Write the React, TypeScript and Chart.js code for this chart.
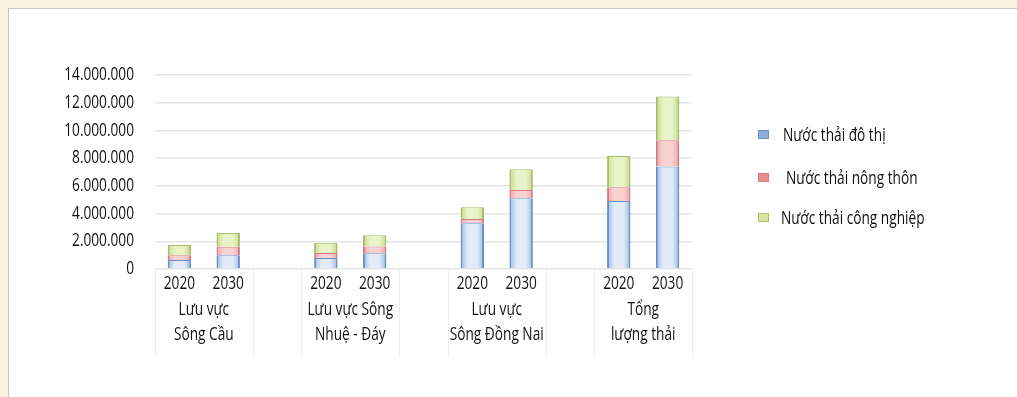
import React, { useEffect, useRef } from 'react';
import { Chart, registerables } from 'chart.js';

Chart.register(...registerables);

// ---- data ----
const categories = ['2020', '2030', '', '2020', '2030', '', '2020', '2030', '', '2020', '2030'];
const groupLabels = [
  ['Lưu vực', 'Sông Cầu'],
  ['Lưu vực Sông', 'Nhuệ - Đáy'],
  ['Lưu vực', 'Sông Đồng Nai'],
  ['Tổng', 'lượng thải'],
];
const groupSlots = [
  [0, 1],
  [3, 4],
  [6, 7],
  [9, 10],
];
const seriesNames = ['Nước thải đô thị', ' Nước thải nông thôn', 'Nước thải công nghiệp'];
const urbanValues = [650000, 1000000, null, 800000, 1130000, null, 3300000, 5100000, null, 4900000, 7400000];
const ruralValues = [350000, 600000, null, 350000, 500000, null, 300000, 600000, null, 1000000, 1900000];
const industrialValues = [730000, 1000000, null, 750000, 800000, null, 850000, 1500000, null, 2250000, 3150000];
const yMax = 14000000;
const yStep = 2000000;

const FONT_FAMILY = '"Open Sans", "Noto Sans", sans-serif';
const FONT_SIZE = 18;
const SX = 0.76; // horizontal condensing of text
const BAR_PCT = 0.48;

const palettes = [
  { edge: '#9ab8e2', center: '#e2ecf8', border: '#6b8fc6', legend: '#91acd9' },
  { edge: '#eea3a6', center: '#f8d2d3', border: '#d47d80', legend: '#e98c90' },
  { edge: '#c7da88', center: '#e9f2c9', border: '#a8bd68', legend: '#d6e3a2' },
];

function gradientFor(idx: number) {
  const p = palettes[idx];
  return (ctx: any) => {
    const chart = ctx.chart;
    const xs = chart.scales && chart.scales.x;
    if (ctx.dataIndex === undefined || !xs || !chart.chartArea) return p.edge;
    const slot = xs.getPixelForTick(1) - xs.getPixelForTick(0);
    const w = slot * BAR_PCT;
    const cx = xs.getPixelForValue(ctx.dataIndex);
    const g = chart.ctx.createLinearGradient(cx - w / 2, 0, cx + w / 2, 0);
    g.addColorStop(0, p.edge);
    g.addColorStop(0.3, p.center);
    g.addColorStop(0.7, p.center);
    g.addColorStop(1, p.edge);
    return g;
  };
}

function drawText(ctx: CanvasRenderingContext2D, text: string, x: number, y: number, align: CanvasTextAlign) {
  ctx.save();
  ctx.translate(x, y);
  ctx.scale(SX, 1);
  ctx.textAlign = align;
  ctx.textBaseline = 'middle';
  ctx.fillText(text, 0, 0);
  ctx.restore();
}

const labelPlugin = {
  id: 'condensedLabels',
  afterDraw(chart: any) {
    const { ctx, chartArea } = chart;
    const xs = chart.scales.x;
    const ys = chart.scales.y;
    const slot = xs.getPixelForTick(1) - xs.getPixelForTick(0);
    ctx.save();
    ctx.fillStyle = '#111';
    ctx.font = `${FONT_SIZE}px ${FONT_FAMILY}`;
    // y tick labels
    ys.ticks.forEach((t: any, i: number) => {
      const y = ys.getPixelForTick(i);
      drawText(ctx, Number(t.value).toLocaleString('de-DE'), chartArea.left - 21, y, 'right');
    });
    // x tick labels
    xs.ticks.forEach((t: any, i: number) => {
      const label = categories[t.value];
      if (!label) return;
      drawText(ctx, label, xs.getPixelForTick(i), chartArea.bottom + 15, 'center');
    });
    // group separators + labels
    groupSlots.forEach((pair, gi) => {
      const left = xs.getPixelForValue(pair[0]) - slot / 2;
      const right = xs.getPixelForValue(pair[1]) + slot / 2;
      ctx.strokeStyle = '#ededed';
      ctx.lineWidth = 1;
      [left, right].forEach((x) => {
        ctx.beginPath();
        ctx.moveTo(Math.round(x) + 0.5, chartArea.bottom);
        ctx.lineTo(Math.round(x) + 0.5, 358);
        ctx.stroke();
      });
      const cx = (left + right) / 2;
      groupLabels[gi].forEach((line, li) => {
        drawText(ctx, line, cx, 310 + li * 25, 'center');
      });
    });
    ctx.restore();
  },
};

export default function App() {
  const canvasRef = useRef<HTMLCanvasElement | null>(null);

  useEffect(() => {
    if (!canvasRef.current) return;
    const seriesData = [urbanValues, ruralValues, industrialValues];
    const chart = new Chart(canvasRef.current, {
      type: 'bar',
      data: {
        labels: categories,
        datasets: seriesData.map((d, i) => ({
          label: seriesNames[i].trim(),
          data: d,
          backgroundColor: gradientFor(i),
          borderColor: palettes[i].border,
          borderWidth: { top: 1, left: 2, right: 2, bottom: 0 },
          borderSkipped: false,
          barPercentage: BAR_PCT,
          categoryPercentage: 1,
        })),
      },
      options: {
        animation: false,
        responsive: false,
        layout: { padding: { left: 0, top: 75, right: 1017 - 692, bottom: 0 } },
        plugins: { legend: { display: false }, tooltip: { enabled: false } },
        scales: {
          x: {
            stacked: true,
            grid: { display: false, drawTicks: false },
            border: { display: false },
            ticks: { display: false, autoSkip: false, maxRotation: 0 },
            afterFit: (s: any) => {
              s.height = 397 - 269;
            },
          },
          y: {
            stacked: true,
            min: 0,
            max: yMax,
            grid: { color: '#e6e6e6', lineWidth: 1.5, drawTicks: false },
            border: { display: false },
            ticks: { display: false, stepSize: yStep },
            afterFit: (s: any) => {
              s.width = 155;
            },
          },
        },
      },
      plugins: [labelPlugin],
    });
    return () => chart.destroy();
  }, []);

  const legendY = [134, 177, 217];
  const legendTextX = [783, 786, 781];

  return (
    <div style={{ position: 'fixed', left: 0, top: 0, width: 1017, height: 397, background: '#fdf3e2', overflow: 'hidden' }}>
      <div
        style={{
          position: 'absolute',
          left: 8,
          top: 8,
          right: 0,
          bottom: 0,
          background: '#ffffff',
          borderLeft: '1px solid #c4c4c4',
          borderTop: '1px solid #c4c4c4',
        }}
      />
      <canvas ref={canvasRef} width={1017} height={397} style={{ position: 'absolute', left: 0, top: 0 }} />
      {seriesNames.map((name, i) => (
        <div key={i}>
          <div
            style={{
              position: 'absolute',
              left: 758,
              top: legendY[i] - 4,
              width: 9,
              height: 7,
              background: palettes[i].legend,
              border: `1px solid ${palettes[i].border}`,
            }}
          />
          <div
            style={{
              position: 'absolute',
              left: legendTextX[i],
              top: legendY[i] - 12,
              font: `${FONT_SIZE}px ${FONT_FAMILY}`,
              lineHeight: '24px',
              color: '#111',
              whiteSpace: 'pre',
              transform: `scaleX(${SX})`,
              transformOrigin: 'left center',
            }}
          >
            {name.trim()}
          </div>
        </div>
      ))}
    </div>
  );
}
